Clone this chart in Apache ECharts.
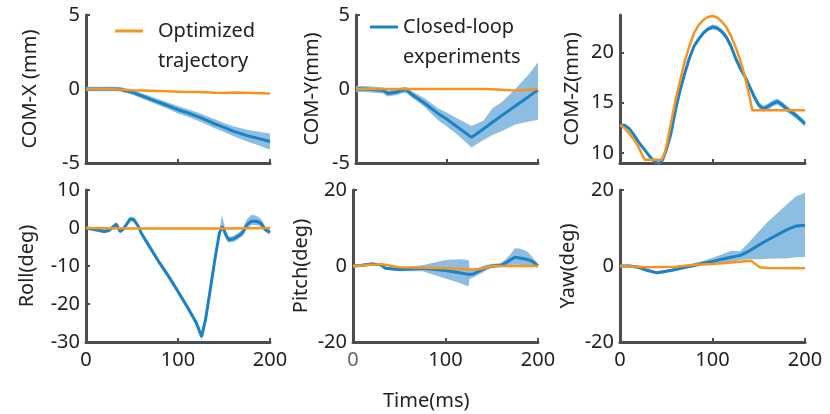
<!DOCTYPE html>
<html>
<head>
<meta charset="utf-8">
<script src="https://cdn.jsdelivr.net/npm/echarts@6/dist/echarts.min.js"></script>
<style>
  html, body { margin: 0; padding: 0; background: #fff; }
  #main { width: 830px; height: 414px; }
</style>
</head>
<body>
<div id="main"></div>
<script>
    var myChart = echarts.init(document.getElementById('main'));

    // 时间轴 (ms)
    var t10 = [0,10,20,30,40,50,60,70,80,90,100,110,120,130,140,150,160,170,180,190,200];

    // COM-X
    var tX = [0,10,20,30,37,50,60,75,90,100,110,125,140,150,160,175,185,200];
    var expX = [0,0,0,0,-0.02,-0.22,-0.45,-0.8,-1.15,-1.4,-1.6,-1.95,-2.35,-2.6,-2.85,-3.15,-3.3,-3.55];
    var hiX = [0.15,0.15,0.15,0.15,0.13,-0.07,-0.27,-0.6,-0.93,-1.15,-1.35,-1.67,-2.05,-2.3,-2.52,-2.75,-2.85,-3.0];
    var loX = [-0.15,-0.15,-0.15,-0.15,-0.17,-0.37,-0.63,-1.0,-1.37,-1.65,-1.85,-2.23,-2.65,-2.9,-3.18,-3.55,-3.75,-4.1];
    var optX = [0,0,0,-0.02,-0.05,-0.08,-0.1,-0.12,-0.14,-0.16,-0.18,-0.2,-0.21,-0.22,-0.25,-0.27,-0.23,-0.25,-0.27,-0.29,-0.31];

    // COM-Y
    var tY = [0,10,20,30,35,40,45,50,55,60,75,90,100,110,127,140,150,160,175,190,200];
    var expY = [0,0,-0.05,-0.1,-0.3,-0.25,-0.2,-0.1,-0.05,-0.3,-0.95,-1.65,-2.05,-2.5,-3.27,-2.7,-2.25,-1.8,-1.15,-0.5,-0.05];
    var hiY = [0.2,0.2,0.15,0.1,-0.1,-0.05,0,0.1,0.15,-0.1,-0.6,-1.3,-1.6,-1.95,-2.5,-2.15,-1.3,-0.9,0,1.0,1.8];
    var loY = [-0.2,-0.2,-0.25,-0.3,-0.5,-0.45,-0.4,-0.3,-0.25,-0.5,-1.2,-2.1,-2.55,-3.0,-3.95,-3.45,-3.1,-2.85,-2.4,-2.2,-2.1];
    var optY = [0,0,0,0,0,0,0,0,0,0,0,0,0,0,0,-0.02,-0.05,-0.08,-0.1,-0.05,0];

    // COM-Z
    var tZ = [0,5,10,15,20,25,30,35,38,42,46,50,55,60,65,70,75,80,85,90,95,100,105,110,115,120,125,130,135,140,145,150,155,160,165,170,175,180,190,200];
    var expZ = [12.76,12.76,12.4,11.8,11.1,10.5,9.9,9.35,9.1,8.94,9.3,10.3,11.9,14.25,16.25,17.9,19.4,20.6,21.3,21.9,22.3,22.5,22.4,22.06,21.5,20.6,19.4,18.4,17.6,16.6,15.6,14.75,14.4,14.6,14.9,15.1,14.8,14.4,13.75,12.9];
    var sdZ = [0.1,0.1,0.1,0.1,0.1,0.1,0.1,0.15,0.15,0.15,0.15,0.2,0.2,0.2,0.2,0.2,0.2,0.2,0.2,0.2,0.2,0.25,0.25,0.25,0.3,0.3,0.3,0.3,0.3,0.3,0.3,0.3,0.3,0.3,0.3,0.3,0.3,0.3,0.3,0.3];
    var tZo = [0,5,10,15,20,25,27,45,48,50,55,60,65,70,75,80,85,90,95,100,105,110,115,120,125,130,135,140,143,200];
    var optZ = [12.76,12.45,11.9,11.35,10.6,9.6,9.33,9.33,9.9,10.6,12.9,15.25,17.2,19.1,20.6,21.9,22.7,23.2,23.5,23.6,23.45,23.05,22.5,21.6,20.5,19.2,17.6,15.6,14.25,14.25];

    // Roll
    var tR = [0,10,20,25,30,33,37,40,45,48,52,57,60,70,80,90,100,110,120,125.7,130,135,140,145,148,150,152,155,160,165,170,175,180,185,190,195,200];
    var expR = [0,-0.4,-0.9,-0.6,0.4,1.0,-0.9,-0.4,1.3,2.4,2.2,0.4,-1.3,-5.3,-9.2,-12.8,-16.7,-20.7,-25,-28.6,-24,-16.3,-8.4,-1.3,0.4,-0.5,-1.8,-3.1,-2.9,-2.2,-1.3,0.9,1.8,1.8,1.3,-0.4,-1.1];
    var hiR = [0.4,0.1,-0.4,-0.1,0.9,1.6,-0.3,0.1,1.8,3.0,2.8,0.9,-0.8,-4.7,-8.6,-12.2,-16.1,-20.1,-24.3,-27.6,-23.2,-15.5,-7.6,-0.4,3.5,1.0,-0.9,-2.3,-2.1,-1.4,-0.3,2.3,3.5,3.2,2.5,0.3,-0.6];
    var loR = [-0.4,-0.9,-1.4,-1.1,-0.1,0.4,-1.5,-0.9,0.8,1.8,1.6,-0.1,-1.8,-5.9,-9.8,-13.4,-17.3,-21.3,-25.7,-29.6,-24.8,-17.1,-9.2,-2.2,-0.6,-1.5,-2.7,-3.9,-3.7,-3.0,-2.2,-0.1,0.8,0.8,0.4,-1.1,-1.7];
    var tRo = [0,50,100,150,200];
    var optR = [0,-0.1,-0.1,-0.1,0];

    // Pitch
    var tP = [0,10,20,30,35,50,75,100,115,125,126,130,140,145,150,160,165,170,175,180,185,190,195,200];
    var expP = [0,0.2,0.5,0.3,-0.6,-0.9,-0.6,-1.2,-1.8,-2.2,-2.2,-2.1,-0.9,-0.35,0,0.2,0.8,1.6,2.3,2.1,1.9,1.6,1.0,0];
    var hiP = [0.4,0.6,0.9,0.7,-0.2,-0.4,0.2,1.6,1.8,1.6,-0.6,-1.0,0,0.3,0.5,0.8,1.8,3.0,4.7,4.6,4.2,3.5,2.0,0.6];
    var loP = [-0.4,-0.2,0.1,-0.1,-1.0,-1.4,-1.4,-3.3,-4.5,-5.4,-3.4,-3.0,-1.8,-1.0,-0.5,-0.3,0,0.3,0.3,0.3,0.2,0.1,0,-0.5];
    var tPo = [0,25,30,50,100,130,138,140,150,200];
    var optP = [0,0.4,0.5,-0.35,-0.6,-0.9,-0.8,-0.35,0,0];

    // Yaw
    var expW = [0,0,-0.35,-1.2,-1.8,-1.4,-0.9,-0.35,0.2,0.7,1.2,1.8,2.3,2.8,4.0,5.5,6.9,8.2,9.5,10.5,10.7];
    var hiW = [0.4,0.4,0.1,-0.8,-1.4,-1.0,-0.5,0.1,0.7,1.4,2.2,3.0,4.0,3.9,6.4,9.1,11.7,13.9,16.1,18.3,19.3];
    var loW = [-0.4,-0.4,-0.8,-1.6,-2.2,-1.8,-1.3,-0.8,-0.3,0.1,0.3,0.8,1.1,1.6,1.8,1.8,1.9,2.0,2.0,2.3,2.4];
    var tWo = [0,30,60,80,100,120,142,151,160,200];
    var optW = [0,-0.35,-0.2,0.3,0.5,0.9,1.35,-0.35,-0.5,-0.6];

    var BLUE = '#1b82c5';
    var ORANGE = '#f7941d';
    var BAND = '#8dbde0';
    var AXIS = '#4d4d4d';
    var FONT = 'Noto Sans';

    function pairs(t, v) {
        return t.map(function (x, i) { return [x, v[i]]; });
    }

    // 子图布局
    var panels = [
        { left: 86,  top: 15,  width: 184, height: 148, min: -5, max: 5, ticks: [-5, 0, 5], name: 'COM-X (mm)', gap: 46, labels: false },
        { left: 356, top: 15,  width: 182, height: 148, min: -5, max: 5, ticks: [-5, 0, 5], name: 'COM-Y(mm)', gap: 34, labels: false },
        { left: 620, top: 15,  width: 185, height: 148, min: 9, max: 23.7, ticks: [10, 15, 20], name: 'COM-Z(mm)', gap: 38, labels: false },
        { left: 86,  top: 190, width: 184, height: 152, min: -30, max: 10, ticks: [-30, -20, -10, 0, 10], name: 'Roll(deg)', gap: 49, labels: true },
        { left: 353, top: 190, width: 185, height: 152, min: -20, max: 20, ticks: [-20, 0, 20], name: 'Pitch(deg)', gap: 42, labels: true, grayZero: true },
        { left: 620, top: 190, width: 185, height: 152, min: -20, max: 20, ticks: [-20, 0, 20], name: 'Yaw(deg)', gap: 42, labels: true }
    ];

    var exp = [
        { t: tX, m: expX, hi: hiX, lo: loX },
        { t: tY, m: expY, hi: hiY, lo: loY },
        { t: tZ, m: expZ, hi: expZ.map(function (v, i) { return v + sdZ[i]; }), lo: expZ.map(function (v, i) { return v - sdZ[i]; }) },
        { t: tR, m: expR, hi: hiR, lo: loR },
        { t: tP, m: expP, hi: hiP, lo: loP },
        { t: t10, m: expW, hi: hiW, lo: loW }
    ];
    var opt = [
        { t: t10, v: optX },
        { t: t10, v: optY },
        { t: tZo, v: optZ },
        { t: tRo, v: optR },
        { t: tPo, v: optP },
        { t: tWo, v: optW }
    ];

    // 置信带多边形
    function bandRender(e) {
        return function (params, api) {
            if (params.dataIndex !== 0) return;
            var pts = [];
            for (var i = 0; i < e.t.length; i++) pts.push(api.coord([e.t[i], e.hi[i]]));
            for (var j = e.t.length - 1; j >= 0; j--) pts.push(api.coord([e.t[j], e.lo[j]]));
            var cs = params.coordSys;
            return {
                type: 'polygon',
                shape: { points: pts },
                style: { fill: BAND, stroke: null },
                clipPath: { type: 'rect', shape: { x: cs.x, y: cs.y, width: cs.width, height: cs.height } },
                silent: true
            };
        };
    }

    var grids = [], xAxes = [], yAxes = [], series = [];

    panels.forEach(function (p, k) {
        grids.push({ left: p.left, top: p.top, width: p.width, height: p.height });
        xAxes.push({
            type: 'value', gridIndex: k, min: 0, max: 200, interval: 100,
            splitLine: { show: false },
            axisLine: { onZero: false, lineStyle: { color: AXIS, width: 3 } },
            axisTick: { inside: true, length: 4, lineStyle: { color: AXIS, width: 2 } },
            axisLabel: {
                show: p.labels, margin: 8, fontSize: 20, fontFamily: FONT, color: '#222',
                formatter: function (v) { return p.grayZero && v === 0 ? '{g|0}' : String(v); },
                rich: { g: { color: '#666', fontSize: 20, fontFamily: FONT } }
            }
        });
        yAxes.push({
            type: 'value', gridIndex: k, min: p.min, max: p.max,
            name: p.name, nameLocation: 'middle', nameGap: p.gap,
            nameTextStyle: { fontSize: 20, fontFamily: FONT, color: '#222' },
            splitLine: { show: false },
            axisLine: { onZero: false, lineStyle: { color: AXIS, width: 3 } },
            axisTick: { inside: true, length: 4, customValues: p.ticks, lineStyle: { color: AXIS, width: 2 } },
            axisLabel: { margin: 6, fontSize: 20, fontFamily: FONT, color: '#222', customValues: p.ticks }
        });

        var e = exp[k];
        series.push({
            type: 'custom', xAxisIndex: k, yAxisIndex: k, z: 1, silent: true,
            renderItem: bandRender(e),
            data: pairs(e.t, e.m)
        });
        series.push({
            name: 'Closed-loop experiments', type: 'line', xAxisIndex: k, yAxisIndex: k,
            symbol: 'none', z: 2,
            lineStyle: { color: BLUE, width: 3 }, itemStyle: { color: BLUE },
            data: pairs(e.t, e.m)
        });
        series.push({
            name: 'Optimized trajectory', type: 'line', xAxisIndex: k, yAxisIndex: k,
            symbol: 'none', z: 3,
            lineStyle: { color: ORANGE, width: 2.5 }, itemStyle: { color: ORANGE },
            data: pairs(opt[k].t, opt[k].v)
        });
    });

    option = {
        animation: false,
        backgroundColor: '#fff',
        grid: grids,
        xAxis: xAxes,
        yAxis: yAxes,
        legend: [{
            left: 115, top: 31 - 45, padding: 0,
            selectedMode: false, icon: 'rect', itemWidth: 28, itemHeight: 3,
            data: ['Optimized trajectory'],
            formatter: function () { return ' \nOptimized\ntrajectory'; },
            textStyle: { fontSize: 20, fontFamily: FONT, color: '#222', lineHeight: 30, padding: [0, 0, 0, 10] }
        }, {
            left: 370, top: 27 - 45, padding: 0,
            selectedMode: false, icon: 'rect', itemWidth: 28, itemHeight: 3,
            data: ['Closed-loop experiments'],
            formatter: function () { return ' \nClosed-loop\nexperiments'; },
            textStyle: { fontSize: 20, fontFamily: FONT, color: '#222', lineHeight: 30, padding: [0, 0, 0, 0] }
        }],
        graphic: [{
            type: 'text', left: 430 - 47, top: 391,
            style: { text: 'Time(ms)', fontSize: 20, fontFamily: FONT, fill: '#222' }
        }],
        series: series
    };

    myChart.setOption(option);
</script>
</body>
</html>
